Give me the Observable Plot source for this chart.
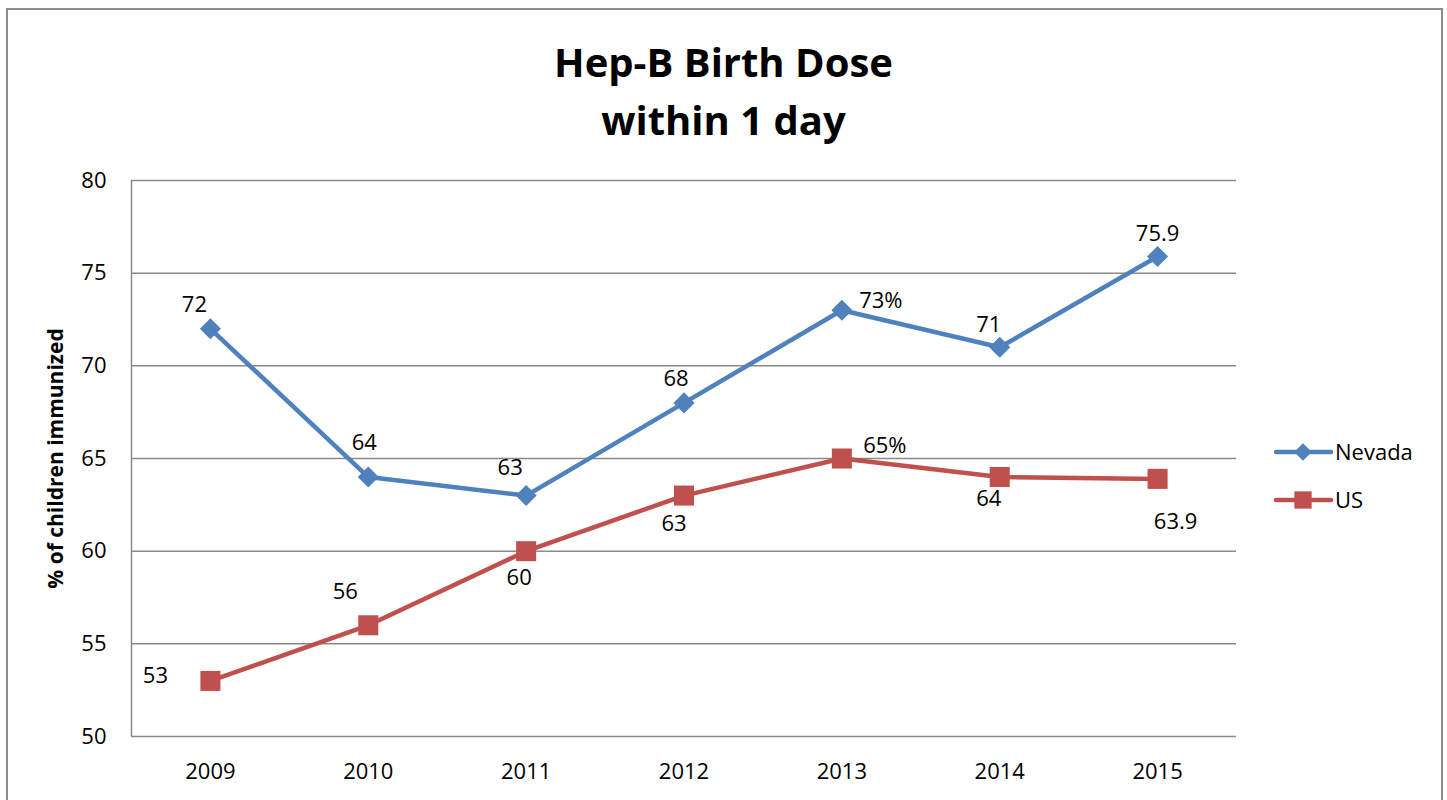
<!DOCTYPE html>
<html>
<head>
<meta charset="utf-8">
<script src="https://cdn.jsdelivr.net/npm/d3@7"></script>
<script src="https://cdn.jsdelivr.net/npm/@observablehq/plot@0.6"></script>
<style>
  body { margin: 0; background: #fff; overflow: hidden; font-family: "Open Sans", sans-serif; }
  #wrap { position: relative; width: 1447px; height: 800px; overflow: hidden; background: #fff; }
  #frame { position: absolute; left: 6px; top: 8px; width: 1437px; height: 900px; border: 2px solid #8c8c8c; box-sizing: border-box; }
  #title { position: absolute; left: 0; top: 33px; width: 1447px; text-align: center; font-weight: 700; font-size: 40px; line-height: 58px; color: #000; }
  #chart { position: absolute; left: 0; top: 160px; }
  #legend { position: absolute; left: 1265px; top: 420px; }
</style>
</head>
<body>
<div id="wrap">
  <div id="frame"></div>
  <div id="title">Hep-B Birth Dose<br>within 1 day</div>
  <div id="chart"></div>
  <div id="legend"></div>
</div>
<script>
// ---- data ----
const years = [2009, 2010, 2011, 2012, 2013, 2014, 2015];
const nevadaValues = [72, 64, 63, 68, 73, 71, 75.9];
const usValues = [53, 56, 60, 63, 65, 64, 63.9];
const nevadaLabels = ["72", "64", "63", "68", "73%", "71", "75.9"];
const usLabels = ["53", "56", "60", "63", "65%", "64", "63.9"];
const yTicks = [50, 55, 60, 65, 70, 75, 80];
const seriesNames = ["Nevada", "US"];
const yAxisTitle = "% of children immunized";

// ---- styling (kept apart from data) ----
const seriesColors = { Nevada: "#4F81BD", US: "#C0504D" };
const seriesSymbols = { Nevada: "diamond2", US: "square" };
const seriesR = { Nevada: 9.5, US: 11.3 };
const labelOffsets = {
  Nevada: [[-16, -24], [-4, -34], [-16, -28], [-8, -24], [39, -9], [-11, -22], [0, -23]],
  US: [[-55, -5], [-23, -33], [-7, 27], [-10, 28], [43, -13], [-11, 22], [18, 43]]
};
const gridColor = "#8a8a8a";
const FONT = "'Open Sans', sans-serif";

const rows = [];
years.forEach((yr, i) => {
  rows.push({ series: "Nevada", year: yr, value: nevadaValues[i], label: nevadaLabels[i], i });
  rows.push({ series: "US", year: yr, value: usValues[i], label: usLabels[i], i });
});

const xDomain = [years[0] - 0.5, years[years.length - 1] + 0.5];
const yDomain = [yTicks[0], yTicks[yTicks.length - 1]];

const labelMarks = rows.map(r => Plot.text([r], {
  x: "year", y: "value", text: "label",
  dx: labelOffsets[r.series][r.i][0], dy: labelOffsets[r.series][r.i][1],
  fontSize: 22, fill: "#000", textAnchor: "middle", lineAnchor: "middle"
}));

const chart = Plot.plot({
  width: 1447,
  height: 640,
  marginLeft: 131,
  marginRight: 211,
  marginTop: 20,
  marginBottom: 64,
  style: { fontFamily: FONT, fontSize: "22px", color: "#000", background: "transparent" },
  x: { type: "linear", domain: xDomain },
  y: { domain: yDomain },
  marks: [
    Plot.ruleY(yTicks, { stroke: gridColor, strokeWidth: 1.5 }),
    Plot.ruleX([xDomain[0]], { y1: yDomain[0], y2: yDomain[1], stroke: gridColor, strokeWidth: 1.5 }),
    ...seriesNames.map(s => Plot.line(rows.filter(r => r.series === s), {
      x: "year", y: "value", stroke: seriesColors[s], strokeWidth: 4.5
    })),
    ...seriesNames.map(s => Plot.dot(rows.filter(r => r.series === s), {
      x: "year", y: "value", fill: seriesColors[s], symbol: seriesSymbols[s], r: seriesR[s], stroke: "none"
    })),
    ...labelMarks,
    Plot.axisX({ ticks: years, tickFormat: d => String(d), tickSize: 0, tickPadding: 27, label: null, fontSize: 22 }),
    Plot.axisY({ ticks: yTicks, tickSize: 0, tickPadding: 25, label: null, fontSize: 22 }),
    Plot.text([yAxisTitle], { frameAnchor: "left", textAnchor: "middle", lineAnchor: "middle", rotate: -90, dx: -75, fontWeight: "bold", fontSize: 21, fill: "#000" })
  ]
});
document.getElementById("chart").appendChild(chart);

// ---- legend ----
const lg = d3.select("#legend").append("svg").attr("width", 180).attr("height", 110)
  .style("font-family", FONT).style("overflow", "visible");
const rowY = [32, 80];
seriesNames.forEach((s, i) => {
  const g = lg.append("g").attr("transform", `translate(0,${rowY[i]})`);
  g.append("line").attr("x1", 11).attr("x2", 66).attr("y1", 0).attr("y2", 0)
    .attr("stroke", seriesColors[s]).attr("stroke-width", 4.5).attr("stroke-linecap", "round");
  g.append("path").attr("transform", "translate(38,0)")
    .attr("d", d3.symbol(s === "Nevada" ? d3.symbolDiamond2 : d3.symbolSquare, s === "Nevada" ? 200 : 300)())
    .attr("fill", seriesColors[s]);
  g.append("text").attr("x", 70).attr("y", 0).attr("dy", "0.36em")
    .attr("font-size", 22).attr("fill", "#000").text(s);
});
</script>
</body>
</html>
